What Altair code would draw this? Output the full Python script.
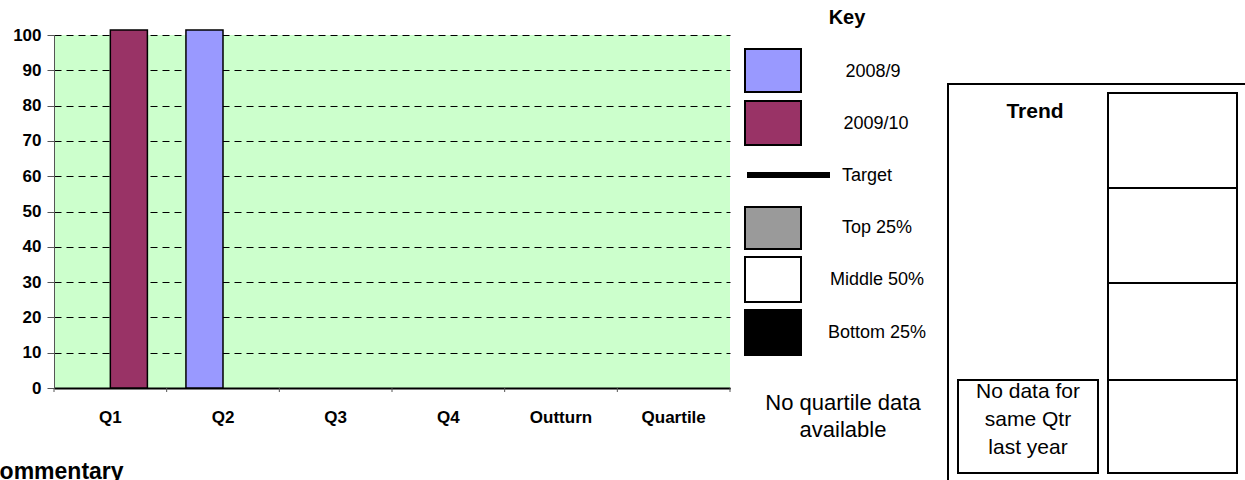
import altair as alt
import pandas as pd

# ---- data ----
categories = ["Q1", "Q2", "Q3", "Q4", "Outturn", "Quartile"]
series_names = ["2008/9", "2009/10"]
series_colors = ["#9999FF", "#993366"]
bar_quarter = ["Q1", "Q2"]
bar_series = ["2009/10", "2008/9"]
bar_value = [101.4, 101.4]          # both bars run off the top of the 0-100 scale
y_ticks = [0, 10, 20, 30, 40, 50, 60, 70, 80, 90, 100]

key_labels = ["2008/9", "2009/10", "Target", "Top 25%", "Middle 50%", "Bottom 25%"]
no_quartile = ["No quartile data", "available"]
no_data = ["No data for", "same Qtr", "last year"]

FONT = "Liberation Sans"
W, H = 676, 353

bars_df = pd.DataFrame({"quarter": bar_quarter, "series": bar_series, "value": bar_value})
cat_df = pd.DataFrame({"quarter": categories})

xscale = alt.Scale(domain=categories, paddingInner=0, paddingOuter=0)

bars = alt.Chart(bars_df).mark_bar(stroke="black", strokeWidth=1.5, clip=False).encode(
    x=alt.X("quarter:N", scale=xscale, title=None,
            axis=alt.Axis(labelAngle=0, ticks=False, labelFont=FONT, labelFontSize=17,
                          labelFontWeight="bold", labelColor="black", labelPadding=21,
                          domainColor="black", domainWidth=2)),
    xOffset=alt.XOffset("series:N", scale=alt.Scale(domain=series_names, paddingInner=0, paddingOuter=0.52)),
    y=alt.Y("value:Q", scale=alt.Scale(domain=[0, 100], nice=False, clamp=False), title=None,
            axis=alt.Axis(values=y_ticks, grid=True, gridColor="black", gridDash=[7, 5], gridWidth=1,
                          tickSize=7, tickColor="#555", domainColor="#555", labelFont=FONT,
                          labelFontSize=17, labelFontWeight="bold", labelColor="black", labelPadding=6)),
    color=alt.Color("series:N", scale=alt.Scale(domain=series_names, range=series_colors), legend=None),
)

xticks = alt.Chart(cat_df).mark_rule(color="#555", strokeWidth=1).encode(
    x=alt.X("quarter:N", bandPosition=0, scale=xscale),
    y=alt.value(H), y2=alt.value(H + 4),
)
end_tick = alt.Chart(alt.Data(values=[{}])).mark_rule(color="#555", strokeWidth=1).encode(
    x=alt.value(W), y=alt.value(H), y2=alt.value(H + 4))


def one():
    return alt.Data(values=[{}])


def txt(s, x, y, size=18, bold=False, align="center", baseline="middle", lh=None):
    kw = dict(font=FONT, fontSize=size, fontWeight="bold" if bold else "normal", color="black",
              align=align, baseline=baseline, text=s)
    if lh:
        kw["lineHeight"] = lh
    return alt.Chart(one()).mark_text(**kw).encode(x=alt.value(x), y=alt.value(y))


def box(x, x2, y, y2, fill, sw=2):
    return alt.Chart(one()).mark_rect(fill=fill, stroke="black", strokeWidth=sw).encode(
        x=alt.value(x), x2=alt.value(x2), y=alt.value(y), y2=alt.value(y2))


deco = [
    txt("Key", 793, -17, 20, bold=True),
    box(691, 747, 14, 57, series_colors[0]),
    txt(key_labels[0], 819, 37),
    box(691, 747, 66, 110, series_colors[1]),
    txt(key_labels[1], 822, 89),
    alt.Chart(one()).mark_rule(color="black", strokeWidth=6).encode(
        x=alt.value(693), x2=alt.value(776), y=alt.value(140)),
    txt(key_labels[2], 788, 141, align="left"),
    box(691, 747, 172, 214, "#9a9a9a"),
    txt(key_labels[3], 823, 193),
    box(691, 747, 222, 267, "white"),
    txt(key_labels[4], 823, 245),
    box(691, 747, 275, 320, "black"),
    txt(key_labels[5], 823, 298),
    txt(no_quartile, 789, 368, 22, lh=27),
    # Trend panel
    box(894, 1200, 49, 460, "white"),
    box(1054, 1183, 58, 153, "white"),
    box(1054, 1183, 153, 248, "white"),
    box(1054, 1183, 248, 345, "white"),
    box(1054, 1183, 345, 438, "white"),
    box(904, 1044, 345, 438, "white"),
    txt("Trend", 981, 77, 21, bold=True),
    txt(no_data, 974, 357, 21, lh=28),
    txt("Commentary", -71, 444, 23, bold=True, align="left", baseline="alphabetic"),
]

chart = alt.layer(bars, xticks, end_tick, *deco).properties(
    width=W, height=H,
    autosize=alt.AutoSizeParams(type="none"),
    padding={"left": 54, "top": 35, "right": 515, "bottom": 92},
    background="white",
).configure_view(fill="#CCFFCC", stroke=None)

chart.save("out.html", embed_options={"renderer": "svg", "actions": False})
